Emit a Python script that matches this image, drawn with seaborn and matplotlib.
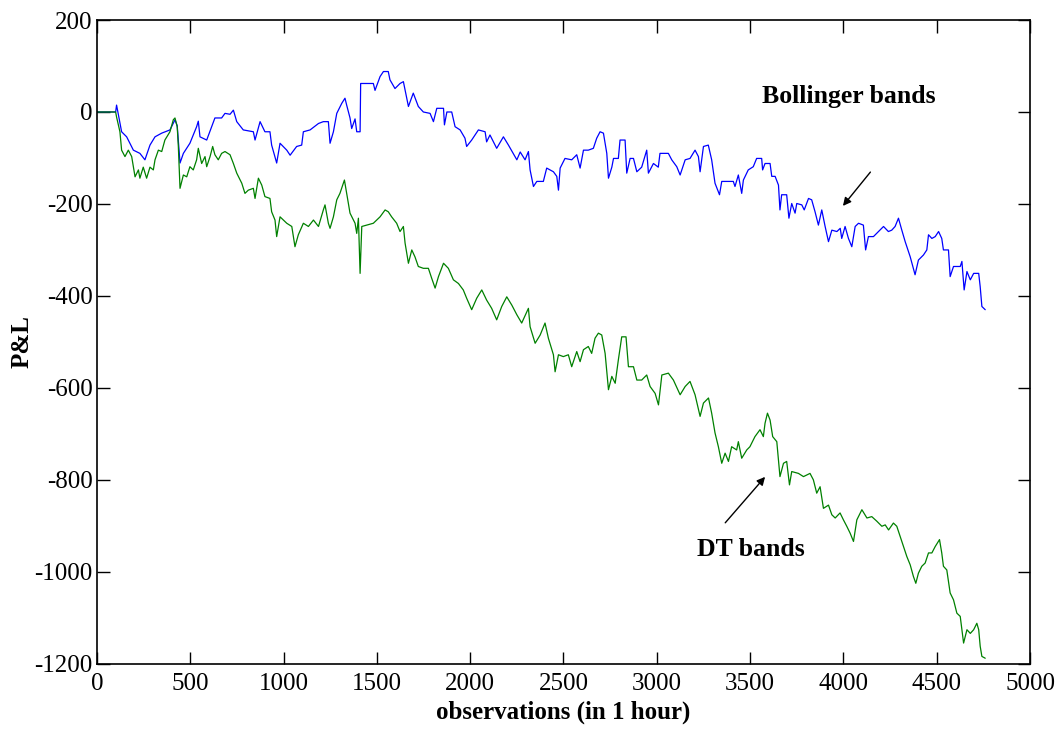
import numpy as np
import pandas as pd
import matplotlib
matplotlib.use('Agg')
import matplotlib.pyplot as plt
import seaborn as sns

# Bollinger bands P&L
boll_x = [0, 100, 105, 132, 159, 195, 230, 257, 284, 311, 347, 391, 418, 430, 445, 463, 498, 534, 543, 552,
          588, 632, 668, 686, 713, 731, 749, 784, 838, 847, 874, 900, 927, 936, 963, 981, 1017, 1035, 1070, 1097,
          1106, 1142, 1187, 1213, 1240, 1249, 1267, 1285, 1312, 1329, 1338, 1356, 1365, 1383, 1392, 1410, 1413,
          1481, 1490, 1517, 1535, 1561, 1570, 1597, 1624, 1642, 1669, 1695, 1722, 1749, 1785, 1803, 1821, 1857,
          1862, 1875, 1901, 1919, 1946, 1972, 1981, 2008, 2044, 2080, 2088, 2106, 2142, 2178, 2205, 2250, 2268,
          2294, 2312, 2321, 2339, 2357, 2392, 2410, 2446, 2464, 2473, 2482, 2508, 2544, 2571, 2589, 2607, 2633,
          2660, 2678, 2696, 2714, 2732, 2741, 2759, 2768, 2794, 2803, 2830, 2839, 2857, 2875, 2893, 2919, 2946,
          2955, 2982, 3008, 3017, 3062, 3080, 3107, 3125, 3152, 3178, 3205, 3223, 3232, 3250, 3276, 3294, 3312,
          3336, 3348, 3410, 3419, 3437, 3455, 3464, 3490, 3517, 3535, 3562, 3567, 3580, 3607, 3616, 3634, 3652,
          3660, 3669, 3696, 3708, 3723, 3741, 3750, 3777, 3790, 3813, 3830, 3848, 3866, 3884, 3902, 3920, 3938,
          3965, 3983, 3991, 4009, 4027, 4045, 4063, 4081, 4107, 4119, 4134, 4161, 4188, 4215, 4241, 4259, 4277,
          4295, 4313, 4331, 4358, 4384, 4402, 4429, 4447, 4456, 4474, 4492, 4510, 4527, 4536, 4563, 4572, 4590,
          4626, 4635, 4647, 4662, 4680, 4698, 4725, 4733, 4742, 4760]
boll_y = [0, 0, 15, -43, -54, -83, -90, -104, -72, -54, -46, -39, -17, -30, -111, -90, -68, -32, -20, -54,
          -61, -13, -13, -3, -5, 4, -21, -39, -43, -61, -21, -43, -43, -72, -111, -68, -83, -94, -75, -72,
          -43, -39, -25, -21, -21, -68, -43, -3, 19, 30, 15, -13, -36, -15, -43, -43, 62,
          62, 47, 77, 88, 88, 70, 51, 62, 66, 12, 41, 12, 0, -3, -21, 8, 8,
          -28, 0, 0, -32, -39, -57, -75, -61, -39, -43, -65, -50, -79, -54, -72, -104, -87,
          -104, -86, -126, -162, -151, -151, -122, -130, -140, -170, -122, -101, -104, -93, -122, -83, -83,
          -79, -57, -43, -46, -90, -144, -120, -101, -101, -61, -61, -133, -101, -101, -130, -120, -83,
          -133, -112, -120, -90, -90, -104, -119, -137, -104, -101, -83, -97, -130, -75, -72, -104, -155,
          -180, -151, -151, -162, -137, -177, -148, -126, -119, -101, -101, -126, -112, -112, -140, -140, -159,
          -213, -180, -180, -231, -199, -220, -199, -202, -213, -188, -191, -217, -246, -213, -249, -282, -257,
          -260, -253, -275, -249, -275, -293, -249, -242, -246, -300, -271, -271, -260, -249, -260, -257, -249,
          -231, -257, -282, -315, -354, -322, -311, -300, -267, -275, -271, -260, -275, -300, -300, -358, -336,
          -336, -325, -387, -347, -365, -351, -351, -380, -423, -430]

# DT bands P&L
dt_x = [0, 100, 105, 123, 132, 150, 168, 186, 204, 222, 230, 248, 266, 284, 302, 311, 329, 347, 364, 391,
        409, 418, 430, 436, 445, 463, 481, 498, 516, 534, 543, 561, 579, 588, 606, 620, 632, 650, 668, 686,
        713, 731, 749, 776, 793, 811, 838, 847, 865, 883, 900, 927, 936, 954, 963, 981, 1017, 1044, 1061, 1079,
        1106, 1133, 1160, 1187, 1213, 1222, 1240, 1249, 1267, 1285, 1302, 1326, 1338, 1356, 1383, 1392, 1401,
        1410, 1419, 1446, 1481, 1517, 1544, 1561, 1579, 1606, 1624, 1642, 1651, 1669, 1687, 1704, 1722, 1749,
        1776, 1794, 1812, 1830, 1857, 1883, 1910, 1937, 1963, 1981, 2008, 2035, 2062, 2088, 2115, 2142, 2169,
        2196, 2223, 2250, 2276, 2312, 2321, 2348, 2375, 2401, 2419, 2446, 2455, 2473, 2499, 2526, 2544, 2571,
        2589, 2607, 2633, 2651, 2669, 2687, 2705, 2723, 2741, 2759, 2777, 2794, 2812, 2835, 2848, 2875, 2893,
        2919, 2946, 2964, 2991, 3009, 3027, 3062, 3089, 3125, 3152, 3178, 3205, 3232, 3250, 3277, 3294, 3312,
        3330, 3348, 3366, 3384, 3401, 3428, 3437, 3455, 3482, 3499, 3526, 3553, 3571, 3580, 3593, 3607, 3621,
        3643, 3660, 3679, 3696, 3711, 3723, 3759, 3786, 3821, 3839, 3857, 3875, 3893, 3920, 3938, 3956, 3982,
        4000, 4018, 4036, 4054, 4072, 4099, 4126, 4152, 4179, 4206, 4224, 4242, 4268, 4286, 4304, 4322, 4340,
        4358, 4375, 4388, 4402, 4420, 4438, 4456, 4474, 4492, 4515, 4527, 4536, 4554, 4572, 4590, 4608, 4626,
        4644, 4662, 4680, 4698, 4715, 4725, 4733, 4742, 4760]
dt_y = [0, 0, -11, -43, -83, -97, -83, -97, -141, -126, -144, -120, -144, -120, -126, -104, -83, -86, -61, -43,
        -17, -13, -32, -75, -166, -137, -141, -119, -126, -104, -79, -112, -97, -119, -97, -75, -93, -104, -90, -86,
        -93, -112, -133, -155, -177, -170, -166, -188, -144, -159, -184, -188, -217, -235, -271, -228, -242, -249, -293, -267,
        -242, -249, -235, -249, -213, -202, -242, -253, -228, -191, -177, -148, -177, -220, -242, -264, -231,
        -351, -249, -246, -242, -228, -213, -217, -228, -242, -260, -249, -285, -329, -300, -315, -336, -340,
        -340, -362, -383, -358, -329, -340, -365, -373, -387, -405, -430, -405, -387, -409, -427, -452, -423,
        -402, -420, -441, -459, -427, -467, -503, -485, -459, -492, -528, -565, -528, -532, -528, -554, -521,
        -543, -517, -510, -525, -492, -481, -485, -525, -604, -575, -590, -539, -489, -489, -554, -554, -583,
        -583, -572, -597, -612, -637, -572, -568, -583, -615, -597, -586, -615, -662, -633, -622, -655, -698,
        -728, -764, -742, -760, -728, -735, -717, -753, -735, -728, -706, -691, -706, -677, -655, -670, -706,
        -717, -793, -764, -760, -811, -782, -786, -793, -786, -800, -829, -815, -862, -855, -876, -883, -872,
        -887, -901, -916, -934, -887, -865, -883, -880, -890, -901, -898, -909, -894, -901, -923, -945, -967,
        -985, -1010, -1025, -1003, -988, -981, -959, -959, -945, -930, -959, -988, -996, -1046, -1061, -1090, -1097,
        -1155, -1126, -1134, -1126, -1112, -1126, -1162, -1184, -1188]

xticks = [0, 500, 1000, 1500, 2000, 2500, 3000, 3500, 4000, 4500, 5000]
yticks = [-1200, -1000, -800, -600, -400, -200, 0, 200]

sns.set_style('ticks', {'axes.edgecolor': 'black', 'text.color': 'black',
                        'xtick.color': 'black', 'ytick.color': 'black',
                        'axes.labelcolor': 'black'})
plt.rcParams['font.family'] = ['Liberation Serif', 'DejaVu Serif']
plt.rcParams['axes.unicode_minus'] = False

boll = pd.DataFrame({'obs': boll_x, 'pnl': boll_y})
dt = pd.DataFrame({'obs': dt_x, 'pnl': dt_y})

fig = plt.figure(figsize=(10.61, 7.31), dpi=100)
ax = fig.add_axes([0.0914, 0.092, 0.8794, 0.8806])

sns.lineplot(data=boll, x='obs', y='pnl', ax=ax, color='#0000ff', lw=0.9, estimator=None, sort=False)
sns.lineplot(data=dt, x='obs', y='pnl', ax=ax, color='#008000', lw=0.9, estimator=None, sort=False)

ax.set_xlim(0, 5000)
ax.set_ylim(-1200, 200)
ax.set_xticks(xticks)
ax.set_yticks(yticks)
ax.tick_params(axis='both', direction='in', top=True, right=True, length=9, width=1,
               labelsize=18, colors='black')
ax.tick_params(axis='x', pad=7)
ax.tick_params(axis='y', pad=3)
for sp in ax.spines.values():
    sp.set_linewidth(1.2)
    sp.set_visible(True)
    sp.set_color('black')

ax.set_xlabel('observations (in 1 hour)', fontsize=18, fontweight='bold', labelpad=4)
ax.set_ylabel('P&L', fontsize=18, fontweight='bold')
ax.yaxis.label.set_va('center')
ax.yaxis.set_label_coords(-0.080, 0.5)

# annotations
ax.annotate('', xy=(3988, -209), xytext=(4154, -126),
            arrowprops=dict(arrowstyle='-|>', color='black', lw=1, mutation_scale=12))
ax.text(4029, 33, 'Bollinger bands', fontsize=18.5, fontweight='bold', ha='center', va='center')
ax.annotate('', xy=(3590, -789), xytext=(3357, -898),
            arrowprops=dict(arrowstyle='-|>', color='black', lw=1, mutation_scale=12))
ax.text(3505, -952, 'DT bands', fontsize=18.5, fontweight='bold', ha='center', va='center')

plt.savefig('out.png', dpi=100)
